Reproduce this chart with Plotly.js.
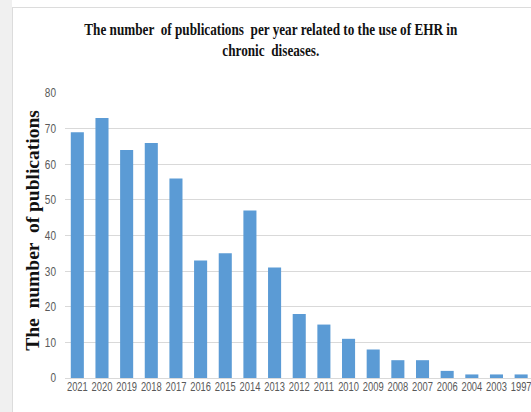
<!DOCTYPE html>
<html>
<head>
<meta charset="utf-8">
<script src="https://cdn.plot.ly/plotly-3.0.1.min.js"></script>
<style>
  html, body { margin: 0; padding: 0; background: #ffffff; }
  #wrap { position: relative; width: 531px; height: 412px; overflow: hidden; background: #ffffff; }
  #strip { position: absolute; left: 0; top: 0; width: 12px; height: 412px; background: #f0f0f0; }
  #frame { position: absolute; left: 12px; top: 7px; width: 560px; height: 460px; border: 1px solid #dcdcdc; box-sizing: border-box; pointer-events: none; }
  #chart { position: absolute; left: 0; top: 0; width: 531px; height: 412px; }
</style>
</head>
<body>
<div id="wrap">
  <div id="strip"></div>
  <div id="frame"></div>
  <div id="chart"></div>
</div>
<script>
const years = ["2021","2020","2019","2018","2017","2016","2015","2014","2013","2012","2011","2010","2009","2008","2007","2006","2004","2003","1997"];
const publications = [69, 73, 64, 66, 56, 33, 35, 47, 31, 18, 15, 11, 8, 5, 5, 2, 1, 1, 1];
const yTicks = [0, 10, 20, 30, 40, 50, 60, 70, 80];

const sans = 'Liberation Sans, Arial, sans-serif';
const serif = 'Liberation Serif, Times New Roman, serif';

const trace = {
  type: 'bar',
  x: years,
  y: publications,
  marker: { color: '#5b9bd5', line: { width: 0 } },
  hoverinfo: 'x+y'
};

const layout = {
  width: 531,
  height: 412,
  margin: { l: 65, r: 0, t: 93, b: 34 },
  paper_bgcolor: 'rgba(0,0,0,0)',
  plot_bgcolor: 'rgba(0,0,0,0)',
  bargap: 0.47,
  showlegend: false,
  title: {
    text: 'The number  of publications  per year related to the use of EHR in<br>chronic  diseases.',
    font: { family: serif, size: 16.5, color: '#111111', weight: 'bold' },
    x: 0.51, xanchor: 'center',
    y: 0.915, yanchor: 'top'
  },
  xaxis: {
    type: 'category',
    range: [-0.5, 18.4],
    showgrid: false,
    showline: false,
    ticks: '',
    tickfont: { family: sans, size: 12, color: '#595959' },
    tickangle: 0,
    automargin: false
  },
  yaxis: {
    range: [0, 80],
    tickvals: yTicks,
    showgrid: true,
    gridcolor: '#d9d9d9',
    gridwidth: 1,
    zeroline: true,
    zerolinecolor: '#d9d9d9',
    zerolinewidth: 1,
    showline: false,
    ticks: '',
    ticklabelstandoff: 8,
    tickfont: { family: sans, size: 12.5, color: '#595959' },
    automargin: false,
    title: {
      text: 'The  number  of publications',
      font: { family: serif, size: 19.5, color: '#111111', weight: 'bold' },
      standoff: 0
    }
  }
};

// Condense text glyphs horizontally (the reference uses narrow fonts)
function condense(selector, factor) {
  document.querySelectorAll(selector).forEach(function (el) {
    const len = el.getComputedTextLength();
    if (len > 0) {
      el.setAttribute('textLength', (len * factor).toFixed(2));
      el.setAttribute('lengthAdjust', 'spacingAndGlyphs');
    }
  });
}

Plotly.newPlot('chart', [trace], layout, { displayModeBar: false, staticPlot: true }).then(function () {
  condense('#chart .xtick text', 0.78);
  condense('#chart .ytick text', 0.8);
  condense('#chart .gtitle tspan.line', 0.8);
  // nudge the y-axis title closer to its tick labels, as in the reference
  const yt = document.querySelector('#chart g.g-ytitle');
  if (yt) yt.setAttribute('transform', 'translate(3,-5)');
});
</script>
</body>
</html>
